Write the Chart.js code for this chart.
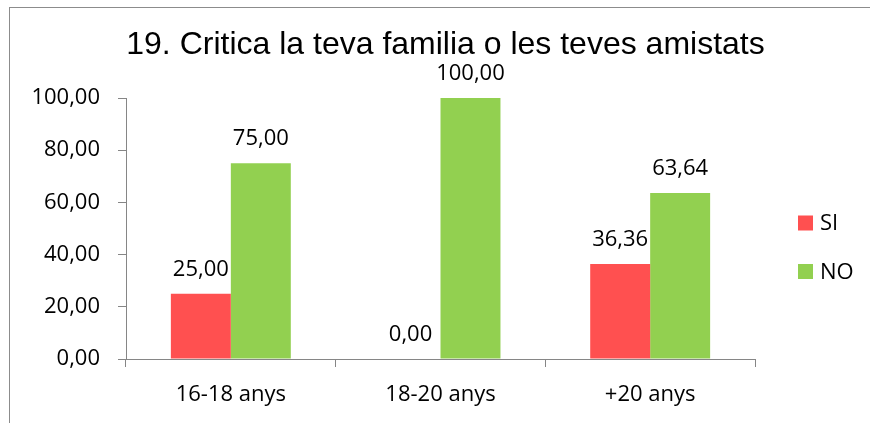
<!DOCTYPE html>
<html><head><meta charset="utf-8">
<script src="https://cdn.jsdelivr.net/npm/chart.js@4.4.1/dist/chart.umd.min.js"></script>
<style>html,body{margin:0;padding:0;background:#fff;overflow:hidden}#wrap{width:870px;height:423px;position:relative}canvas{display:block}</style>
</head><body><div id="wrap"><canvas id="c" width="870" height="423" style="width:870px;height:423px"></canvas></div>
<script>
const categories = ['16-18 anys', '18-20 anys', '+20 anys'];
const seriesNames = ['SI', 'NO'];
const siValues = [25.00, 0.00, 36.36];
const noValues = [75.00, 100.00, 63.64];
const yTicks = [0, 20, 40, 60, 80, 100];
const titleText = '19. Critica la teva familia o les teves amistats';
const seriesColors = ['#FF5050', '#92D050'];

const fmt = v => Number(v).toFixed(2).replace('.', ',');
const LABEL_FONT = '22px "Open Sans"';
const AXIS_COLOR = '#868686';

const framePlugin = {
  id: 'frame',
  beforeDraw(chart) {
    const ctx = chart.ctx;
    ctx.save();
    ctx.fillStyle = '#fff';
    ctx.fillRect(0, 0, chart.width, chart.height);
    ctx.strokeStyle = '#8c8c8c';
    ctx.lineWidth = 1;
    ctx.strokeRect(9.5, 7.5, chart.width + 20, chart.height + 20);
    ctx.restore();
  }
};

const valueLabels = {
  id: 'valueLabels',
  afterDatasetsDraw(chart) {
    const ctx = chart.ctx;
    ctx.save();
    ctx.font = LABEL_FONT;
    ctx.fillStyle = '#000';
    ctx.textAlign = 'center';
    ctx.textBaseline = 'alphabetic';
    chart.data.datasets.forEach((ds, di) => {
      const meta = chart.getDatasetMeta(di);
      meta.data.forEach((el, i) => {
        ctx.fillText(fmt(ds.data[i]), el.x, el.y - 18);
      });
    });
    ctx.restore();
  }
};

const sideLegend = {
  id: 'sideLegend',
  afterDraw(chart) {
    const ctx = chart.ctx;
    const area = chart.chartArea;
    const x = area.right + 43;
    const y0 = 223;
    const step = 48.5;
    const box = 15;
    ctx.save();
    ctx.font = LABEL_FONT;
    ctx.textAlign = 'left';
    ctx.textBaseline = 'middle';
    chart.data.datasets.forEach((ds, i) => {
      const cy = y0 + i * step;
      ctx.fillStyle = ds.backgroundColor;
      ctx.fillRect(x, cy - box / 2, box, box);
      ctx.fillStyle = '#000';
      ctx.fillText(ds.label, x + box + 7, cy + 1);
    });
    ctx.restore();
  }
};

new Chart(document.getElementById('c'), {
  type: 'bar',
  data: {
    labels: categories,
    datasets: [
      { label: seriesNames[0], data: siValues, backgroundColor: seriesColors[0], borderWidth: 0 },
      { label: seriesNames[1], data: noValues, backgroundColor: seriesColors[1], borderWidth: 0 }
    ]
  },
  options: {
    responsive: false,
    animation: false,
    devicePixelRatio: 1,
    layout: { padding: { left: 21, right: 0, top: 0, bottom: 0 } },
    datasets: { bar: { categoryPercentage: 0.572, barPercentage: 1.0 } },
    plugins: {
      legend: { display: false },
      tooltip: { enabled: false },
      title: {
        display: true,
        text: titleText,
        color: '#000',
        font: { family: '"Liberation Sans", Arial, sans-serif', size: 32, weight: 'normal', lineHeight: 1.2 },
        padding: { top: 26.4, bottom: 33.2 }
      }
    },
    scales: {
      x: {
        grid: { display: true, drawOnChartArea: false, drawTicks: true, tickLength: 8, color: AXIS_COLOR, offset: true },
        border: { display: true, color: AXIS_COLOR },
        ticks: { color: '#000', font: { family: '"Open Sans"', size: 22 }, padding: 15, maxRotation: 0 },
        afterFit(s) { s.height = 64; }
      },
      y: {
        min: 0, max: 100,
        afterBuildTicks(s) { s.ticks = yTicks.map(v => ({ value: v })); },
        grid: { display: true, drawOnChartArea: false, drawTicks: true, tickLength: 8, color: AXIS_COLOR },
        border: { display: true, color: AXIS_COLOR },
        ticks: { color: '#000', font: { family: '"Open Sans"', size: 22 }, padding: 18, callback: v => fmt(v) },
        afterFit(s) { s.width = 105; }
      },
      yRight: {
        type: 'linear',
        position: 'right',
        display: true,
        grid: { display: false },
        border: { display: false },
        ticks: { display: false },
        afterFit(s) { s.width = 115; }
      }
    }
  },
  plugins: [framePlugin, valueLabels, sideLegend]
});
</script>
</body></html>
